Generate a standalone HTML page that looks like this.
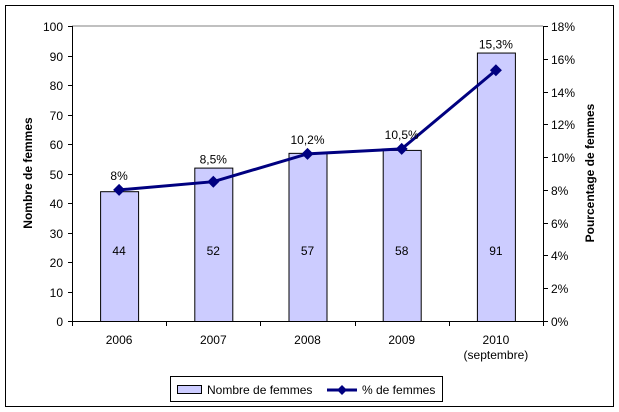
<!DOCTYPE html>
<html><head><meta charset="utf-8"><style>
body{margin:0;background:#fff;}
svg{display:block;font-family:"Liberation Sans",Arial,sans-serif;}
</style></head><body>
<svg id="c" width="619" height="412">
<rect x="5.5" y="5.5" width="608" height="401" fill="#fff" stroke="#000"/>
<line x1="72" y1="26" x2="543" y2="26" stroke="#808080"/>
<g id="g"></g>
<text transform="translate(32,173) rotate(-90)" text-anchor="middle" font-size="12" font-weight="bold">Nombre de femmes</text>
<text transform="translate(594,173) rotate(-90)" text-anchor="middle" font-size="12" font-weight="bold">Pourcentage de femmes</text>
<g>
<rect x="170.5" y="376.5" width="272" height="25" fill="#fff" stroke="#000"/>
<rect x="177.5" y="385.5" width="24" height="8" fill="#ccccff" stroke="#000"/>
<text x="207" y="394" font-size="12">Nombre de femmes</text>
<line x1="327" y1="390" x2="357" y2="390" stroke="#000080" stroke-width="3"/>
<path d="M342 385 L347 390 L342 395 L337 390Z" fill="#000080"/>
<text x="362" y="394" font-size="12">% de femmes</text>
</g>
</svg>
<script>
const categories=["2006","2007","2008","2009","2010"];
const subLabels=["","","","","(septembre)"];
const counts=[44,52,57,58,91];
const percents=[8,8.5,10.2,10.5,15.3];
const pctLabels=["8%","8,5%","10,2%","10,5%","15,3%"];
const leftTicks=[0,10,20,30,40,50,60,70,80,90,100];
const rightTicks=[0,2,4,6,8,10,12,14,16,18];
const X0=72,X1=543,Y0=321,Y1=26;
const bw=(X1-X0)/categories.length;
const yL=v=>Y0-(v/100)*(Y0-Y1);
const yR=v=>Y0-(v/18)*(Y0-Y1);
const xC=i=>X0+bw*(i+0.5);
const g=document.getElementById('g');
const NS="http://www.w3.org/2000/svg";
function mk(t,a,txt){const e=document.createElementNS(NS,t);for(const k in a)e.setAttribute(k,a[k]);if(txt!=null)e.textContent=txt;g.appendChild(e);return e;}
categories.forEach((c,i)=>{
  const b=mk('rect',{x:xC(i)-19+0.5,y:yL(counts[i])+0.5,width:38,height:Y0-yL(counts[i]),fill:'#ccccff',stroke:'#000'});
  
  
  const t=mk('text',{x:xC(i),y:255,'text-anchor':'middle','font-size':12},String(counts[i]));
  
  
  const l=mk('text',{x:xC(i),y:344,'text-anchor':'middle','font-size':12},c);
  
  
  if(subLabels[i]){const s=mk('text',{x:xC(i),y:359,'text-anchor':'middle','font-size':12},subLabels[i]);
  
  }
});
let a=mk('line',{x1:X0+0.5,y1:Y1,x2:X0+0.5,y2:Y0,stroke:'#000'});


a=mk('line',{x1:X1+0.5,y1:Y1,x2:X1+0.5,y2:Y0,stroke:'#000'});


a=mk('line',{x1:X0,y1:Y0+0.5,x2:X1+1,y2:Y0+0.5,stroke:'#000'});


for(let i=0;i<=categories.length;i++){const x=Math.round(X0+bw*i)+0.5;const t=mk('line',{x1:x,y1:Y0,x2:x,y2:Y0+5,stroke:'#000'});

}
leftTicks.forEach(v=>{const y=Math.round(yL(v))+0.5;
const t=mk('line',{x1:X0-4,y1:y,x2:X0,y2:y,stroke:'#000'});


const l=mk('text',{x:X0-9,y:y+4.5,'text-anchor':'end','font-size':12},String(v));

});
rightTicks.forEach(v=>{const y=Math.round(yR(v))+0.5;
const t=mk('line',{x1:X1,y1:y,x2:X1+5,y2:y,stroke:'#000'});


const l=mk('text',{x:X1+8,y:y+4.5,'font-size':12},v+'%');

});
const ln=mk('polyline',{points:percents.map((p,i)=>xC(i)+','+yR(p)).join(' '),fill:'none',stroke:'#000080','stroke-width':3});


percents.forEach((p,i)=>{const x=xC(i),y=yR(p);
const m=mk('path',{d:`M${x} ${y-6}L${x+6} ${y}L${x} ${y+6}L${x-6} ${y}Z`,fill:'#000080'});


const ly=Math.min(y-6,yL(counts[i]))-4;
const t=mk('text',{x:x,y:ly,'text-anchor':'middle','font-size':12},pctLabels[i]);

});
</script>
</body></html>
